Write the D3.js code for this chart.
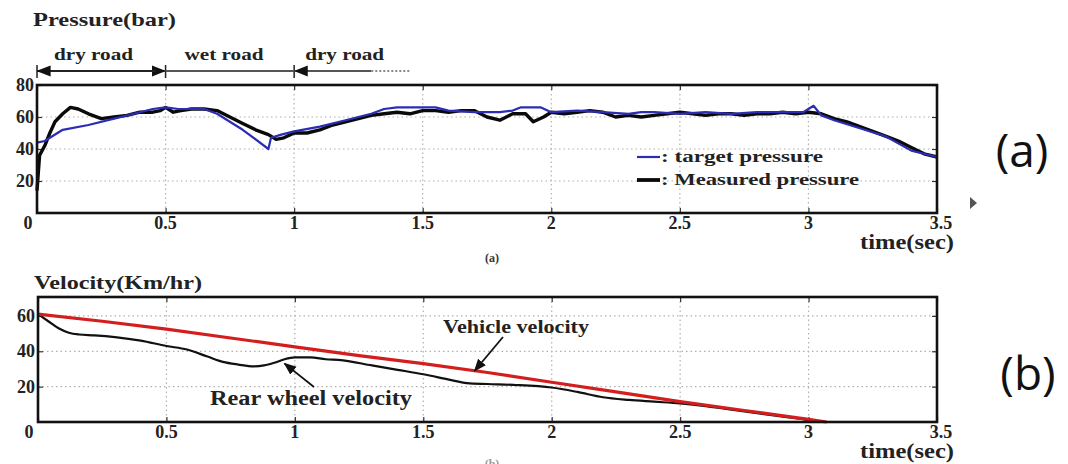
<!DOCTYPE html>
<html>
<head>
<meta charset="utf-8">
<script src="https://cdn.jsdelivr.net/npm/d3@7"></script>
<style>
  body { margin: 0; background: #fff; }
  svg { display: block; }
</style>
</head>
<body>
<div id="chart"></div>
<script>
// ---- data ----
// (a) pressure
const measuredT = [0, 0.01, 0.03, 0.05, 0.07, 0.1, 0.13, 0.16, 0.2, 0.25, 0.3, 0.35, 0.4, 0.45, 0.48, 0.5, 0.53, 0.56, 0.6, 0.65,
  0.7, 0.75, 0.8, 0.85, 0.9, 0.93, 0.96, 1.0, 1.05, 1.1, 1.15, 1.2, 1.25, 1.3, 1.35, 1.4, 1.45, 1.5, 1.55, 1.6,
  1.65, 1.7, 1.75, 1.8, 1.85, 1.9, 1.93, 1.97, 2.0, 2.05, 2.1, 2.15, 2.2, 2.25, 2.3, 2.35, 2.4, 2.45, 2.5, 2.55,
  2.6, 2.65, 2.7, 2.75, 2.8, 2.85, 2.9, 2.95, 3.0, 3.05, 3.1, 3.15, 3.2, 3.25, 3.3, 3.35, 3.4, 3.45, 3.5];
const measuredP = [14, 36, 42, 50, 57, 62, 66, 65, 62, 59, 60, 61, 63, 63, 64, 66, 63, 64, 65, 65,
  64, 60, 56, 52, 49, 46, 47, 50, 50, 52, 55, 57, 59, 61, 62, 63, 62, 64, 64, 63,
  64, 64, 60, 58, 62, 62, 57, 60, 63, 62, 63, 64, 63, 60, 61, 60, 61, 62, 63, 62,
  61, 62, 62, 61, 62, 62, 63, 62, 63, 62, 59, 57, 54, 51, 48, 45, 41, 37, 35];
const targetT = [0, 0.03, 0.05, 0.1, 0.2, 0.3, 0.4, 0.45, 0.5, 0.55, 0.65, 0.7, 0.8, 0.9, 0.91, 0.95, 1.0, 1.1, 1.2, 1.3,
  1.35, 1.4, 1.5, 1.55, 1.6, 1.7, 1.8, 1.85, 1.88, 1.96, 2.0, 2.1, 2.2, 2.3, 2.35, 2.4, 2.5, 2.6, 2.7, 2.8,
  2.9, 2.98, 3.02, 3.05, 3.1, 3.2, 3.3, 3.4, 3.5];
const targetP = [44, 45, 47, 52, 55, 59, 63, 65, 66, 65, 65, 62, 52, 40, 47, 49, 51, 54, 58, 62,
  65, 66, 66, 66, 64, 63, 63, 64, 66, 66, 63, 64, 63, 62, 63, 63, 62, 63, 62, 63,
  63, 63, 67, 61, 58, 53, 48, 39, 35];

// (b) velocity
const vehicleT = [0, 0.25, 0.5, 0.75, 1.0, 1.25, 1.5, 1.75, 2.0, 2.25, 2.5, 2.75, 3.0, 3.07];
const vehicleV = [61, 57, 52.5, 47.5, 42.5, 37.5, 33, 28, 22.5, 17, 11.5, 6.5, 1.5, 0];
const rearT = [0, 0.04, 0.08, 0.12, 0.16, 0.22, 0.3, 0.4, 0.5, 0.58, 0.66, 0.72, 0.78, 0.84, 0.88, 0.92, 0.96, 1.0, 1.06, 1.12,
  1.18, 1.3, 1.4, 1.5, 1.6, 1.67, 1.75, 1.85, 2.0, 2.1, 2.2, 2.3, 2.4, 2.5, 2.6, 2.7, 2.8, 2.9, 3.0, 3.03];
const rearV = [61, 57, 53, 50.5, 49.5, 49, 48, 46, 43, 41, 37, 34, 32.5, 31.5, 32, 33.5, 35.5, 36.5, 36.5, 35.5,
  35, 32, 29.5, 27, 24, 22, 21.5, 21, 19.5, 17, 14, 12.5, 11.5, 10.5, 9, 7, 5, 3, 1, 0];

const xTicks = [0, 0.5, 1, 1.5, 2, 2.5, 3, 3.5];
const xTickLabels = ['0', '0.5', '1', '1.5', '2', '2.5', '3', '3.5'];
const pressureTicks = [20, 40, 60, 80];
const velocityTicks = [20, 40, 60];
const roads = ['dry road', 'wet road', 'dry road'];
const roadBounds = [0, 0.5, 1.0];
const legendNames = [': target pressure', ': Measured pressure'];

// ---- setup ----
const width = 1068, height = 464;
const serif = '"Liberation Serif", "Times New Roman", serif';

const svg = d3.select('#chart').append('svg')
  .attr('width', width)
  .attr('height', height)
  .style('background', '#fff');

svg.append('defs').append('marker')
  .attr('id', 'arrowHead')
  .attr('viewBox', '0 0 10 10')
  .attr('refX', 9).attr('refY', 5)
  .attr('markerWidth', 7).attr('markerHeight', 7)
  .attr('orient', 'auto')
  .append('path')
  .attr('d', 'M0,1 L10,5 L0,9 Z')
  .attr('fill', '#111');

// draws box, grid, ticks and labels of one panel; returns its scales
function drawPanel(box, yMax, yTicks, title, titleLen) {
  const x = d3.scaleLinear().domain([0, 3.5]).range([box.left, box.right]);
  const y = d3.scaleLinear().domain([0, yMax]).range([box.bottom, box.top]);
  const g = svg.append('g');

  // dotted grid
  g.append('g').selectAll('line.h')
    .data(yTicks.filter(d => d < yMax - 1))
    .join('line')
    .attr('x1', box.left).attr('x2', box.right)
    .attr('y1', d => y(d)).attr('y2', d => y(d))
    .attr('stroke', '#b0b0b0').attr('stroke-width', 1.2)
    .attr('stroke-dasharray', '1.5,3');
  g.append('g').selectAll('line.v')
    .data(xTicks.slice(1, -1))
    .join('line')
    .attr('y1', box.top).attr('y2', box.bottom)
    .attr('x1', d => x(d)).attr('x2', d => x(d))
    .attr('stroke', '#b0b0b0').attr('stroke-width', 1.2)
    .attr('stroke-dasharray', '1.5,3');

  // inner tick marks on all four sides
  const tickStyle = sel => {
    sel.select('.domain').remove();
    sel.selectAll('line').attr('stroke', '#333').attr('stroke-width', 1.2);
    sel.selectAll('text').remove();
  };
  g.append('g').attr('transform', `translate(0,${box.bottom})`)
    .call(d3.axisBottom(x).tickValues(xTicks).tickSize(-5)).call(tickStyle);
  g.append('g').attr('transform', `translate(0,${box.top})`)
    .call(d3.axisTop(x).tickValues(xTicks).tickSize(-5)).call(tickStyle);
  g.append('g').attr('transform', `translate(${box.left},0)`)
    .call(d3.axisLeft(y).tickValues(yTicks).tickSize(-5)).call(tickStyle);
  g.append('g').attr('transform', `translate(${box.right},0)`)
    .call(d3.axisRight(y).tickValues(yTicks).tickSize(-5)).call(tickStyle);

  // tick labels
  g.append('g').selectAll('text')
    .data(xTicks)
    .join('text')
    .attr('x', (d, i) => i === 0 ? x(d) - 9 : (i === xTicks.length - 1 ? x(d) + 4 : x(d)))
    .attr('y', box.bottom + 16)
    .attr('text-anchor', 'middle')
    .style('font-family', serif).style('font-weight', 'bold').style('font-size', '18px')
    .attr('fill', '#222')
    .text((d, i) => xTickLabels[i]);
  g.append('g').selectAll('text')
    .data(yTicks)
    .join('text')
    .attr('x', box.left - 3)
    .attr('y', d => y(d) + 6)
    .attr('text-anchor', 'end')
    .style('font-family', serif).style('font-weight', 'bold').style('font-size', '18px')
    .attr('fill', '#222')
    .text(d => d);

  g.append('text')
    .attr('x', 860).attr('y', box.bottom + 36)
    .attr('textLength', 94).attr('lengthAdjust', 'spacingAndGlyphs')
    .style('font-family', serif).style('font-weight', 'bold').style('font-size', '21px')
    .attr('fill', '#222')
    .text('time(sec)');

  g.append('text')
    .attr('x', box.left - 4).attr('y', box.top - (box.titleGap || 0))
    .attr('textLength', titleLen).attr('lengthAdjust', 'spacingAndGlyphs')
    .style('font-family', serif).style('font-weight', 'bold').style('font-size', '19px')
    .attr('fill', '#222')
    .text(title);

  return { x, y, g, box };
}

// ---- panel (a) ----
const boxA = { left: 37, right: 937, top: 85, bottom: 213, titleGap: 59 };
const pa = drawPanel(boxA, 80, pressureTicks, 'Pressure(bar)', 143);

const lineA = d3.line().x(d => pa.x(d[0])).y(d => pa.y(d[1]));
svg.append('path')
  .datum(measuredT.map((t, i) => [t, measuredP[i]]))
  .attr('d', lineA)
  .attr('fill', 'none').attr('stroke', '#0a0a0a').attr('stroke-width', 3.4)
  .attr('stroke-linejoin', 'round');
svg.append('path')
  .datum(targetT.map((t, i) => [t, targetP[i]]))
  .attr('d', lineA)
  .attr('fill', 'none').attr('stroke', '#2c2cb4').attr('stroke-width', 2.2)
  .attr('stroke-linejoin', 'round');

// box border on top of the lines
svg.append('rect')
  .attr('x', boxA.left).attr('y', boxA.top)
  .attr('width', boxA.right - boxA.left).attr('height', boxA.bottom - boxA.top)
  .attr('fill', 'none').attr('stroke', '#111').attr('stroke-width', 2.6);

// road annotations
const roadY = 71;
const road = svg.append('g').attr('stroke', '#222').attr('fill', '#222');
road.selectAll('line.bar')
  .data(roadBounds)
  .join('line')
  .attr('x1', d => pa.x(d)).attr('x2', d => pa.x(d))
  .attr('y1', roadY - 6).attr('y2', roadY + 7)
  .attr('stroke-width', 1.5);
road.append('line')
  .attr('x1', pa.x(0)).attr('x2', pa.x(0.5) - 1)
  .attr('y1', roadY).attr('y2', roadY).attr('stroke-width', 2)
  .attr('marker-end', 'url(#arrowHead)');
road.append('line')
  .attr('x1', pa.x(0.5) - 10).attr('x2', pa.x(0) + 1)
  .attr('y1', roadY).attr('y2', roadY).attr('stroke-width', 2)
  .attr('marker-end', 'url(#arrowHead)');
road.append('line')
  .attr('x1', pa.x(0.5)).attr('x2', pa.x(1.0))
  .attr('y1', roadY).attr('y2', roadY).attr('stroke-width', 2)
  .attr('stroke', '#555');
road.append('line')
  .attr('x1', pa.x(1.3)).attr('x2', pa.x(1.0) + 1)
  .attr('y1', roadY).attr('y2', roadY).attr('stroke-width', 2)
  .attr('stroke', '#555')
  .attr('marker-end', 'url(#arrowHead)');
road.append('line')
  .attr('x1', pa.x(1.3)).attr('x2', pa.x(1.45))
  .attr('y1', roadY).attr('y2', roadY).attr('stroke-width', 2)
  .attr('stroke', '#888').attr('stroke-dasharray', '2,2');

svg.selectAll('text.road')
  .data(roads)
  .join('text')
  .attr('class', 'road')
  .attr('x', (d, i) => pa.x(roadBounds[i]) + [17, 19, 11][i])
  .attr('y', 60)
  .attr('textLength', 79).attr('lengthAdjust', 'spacingAndGlyphs')
  .style('font-family', serif).style('font-weight', 'bold').style('font-size', '17px')
  .attr('fill', '#222')
  .text(d => d);

// legend
const legendColors = ['#2c2cb4', '#0a0a0a'];
const legendWidths = [2.2, 3.8];
const legend = svg.append('g');
legend.selectAll('line')
  .data(legendNames)
  .join('line')
  .attr('x1', 637).attr('x2', 660)
  .attr('y1', (d, i) => 157 + i * 23).attr('y2', (d, i) => 157 + i * 23)
  .attr('stroke', (d, i) => legendColors[i])
  .attr('stroke-width', (d, i) => legendWidths[i]);
legend.selectAll('text')
  .data(legendNames)
  .join('text')
  .attr('x', 661)
  .attr('y', (d, i) => 162 + i * 23)
  .attr('textLength', (d, i) => [162, 198][i]).attr('lengthAdjust', 'spacingAndGlyphs')
  .style('font-family', serif).style('font-weight', 'bold').style('font-size', '16px')
  .attr('fill', '#222')
  .text(d => d);

svg.append('text')
  .attr('x', 492).attr('y', 262)
  .attr('text-anchor', 'middle')
  .style('font-family', serif).style('font-weight', 'bold').style('font-size', '12px')
  .attr('fill', '#333')
  .text('(a)');

// ---- panel (b) ----
const boxB = { left: 38, right: 937, top: 297, bottom: 422, titleGap: 8 };
const pb = drawPanel(boxB, 70.7, velocityTicks, 'Velocity(Km/hr)', 168);

const lineB = d3.line().x(d => pb.x(d[0])).y(d => pb.y(d[1]));
svg.append('path')
  .datum(rearT.map((t, i) => [t, rearV[i]]))
  .attr('d', lineB.curve(d3.curveMonotoneX))
  .attr('fill', 'none').attr('stroke', '#111').attr('stroke-width', 2.2);
svg.append('path')
  .datum(vehicleT.map((t, i) => [t, vehicleV[i]]))
  .attr('d', d3.line().x(d => pb.x(d[0])).y(d => pb.y(d[1])))
  .attr('fill', 'none').attr('stroke', '#d41e1e').attr('stroke-width', 3.2);

svg.append('rect')
  .attr('x', boxB.left).attr('y', boxB.top)
  .attr('width', boxB.right - boxB.left).attr('height', boxB.bottom - boxB.top)
  .attr('fill', 'none').attr('stroke', '#111').attr('stroke-width', 2.6);

// annotations with arrows
svg.append('text')
  .attr('x', 443).attr('y', 333)
  .attr('textLength', 146).attr('lengthAdjust', 'spacingAndGlyphs')
  .style('font-family', serif).style('font-weight', 'bold').style('font-size', '18px')
  .attr('fill', '#222')
  .text('Vehicle velocity');
svg.append('line')
  .attr('x1', 503).attr('y1', 337)
  .attr('x2', pb.x(1.7)).attr('y2', pb.y(29))
  .attr('stroke', '#111').attr('stroke-width', 1.8)
  .attr('marker-end', 'url(#arrowHead)');

svg.append('text')
  .attr('x', 210).attr('y', 405)
  .attr('textLength', 202).attr('lengthAdjust', 'spacingAndGlyphs')
  .style('font-family', serif).style('font-weight', 'bold').style('font-size', '20px')
  .attr('fill', '#222')
  .text('Rear wheel velocity');
svg.append('line')
  .attr('x1', 314).attr('y1', 387)
  .attr('x2', pb.x(0.96)).attr('y2', pb.y(33))
  .attr('stroke', '#111').attr('stroke-width', 1.8)
  .attr('marker-end', 'url(#arrowHead)');

// caption of (b) sits mostly below the frame, as in the source picture
svg.append('text')
  .attr('x', 492).attr('y', 468)
  .attr('text-anchor', 'middle')
  .style('font-family', serif).style('font-weight', 'bold').style('font-size', '12px')
  .attr('fill', '#999')
  .text('(b)');

// ---- side labels ----
const sideLabels = ['(a)', '(b)'];
svg.selectAll('text.side')
  .data(sideLabels)
  .join('text')
  .attr('class', 'side')
  .attr('x', (d, i) => [1022, 1028][i])
  .attr('y', (d, i) => [167, 390][i])
  .attr('text-anchor', 'middle')
  .style('font-family', '"Open Sans", "Noto Sans", sans-serif')
  .style('font-size', '46px')
  .attr('fill', '#111')
  .text(d => d);

svg.append('path')
  .attr('d', 'M970,197 L977,203 L970,209 Z')
  .attr('fill', '#555');
</script>
</body>
</html>
